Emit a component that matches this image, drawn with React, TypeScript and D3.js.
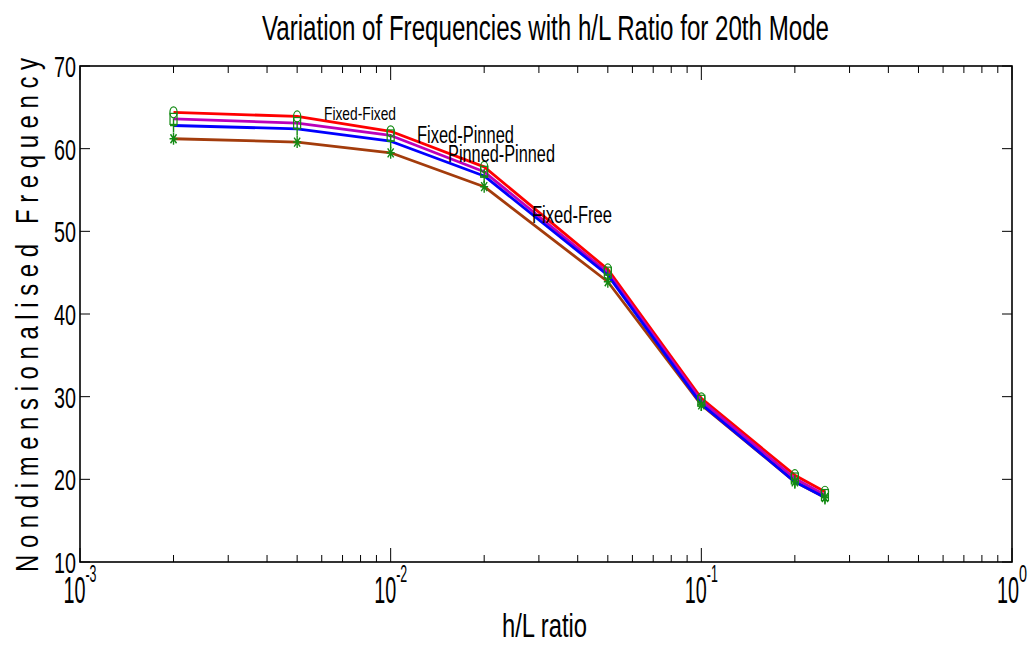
import React from 'react';
import * as d3 from 'd3';

const hlRatio = [0.002, 0.005, 0.01, 0.02, 0.05, 0.1, 0.2, 0.25];
const fixedFixed = [64.4, 63.9, 62.1, 57.8, 45.4, 29.8, 20.5, 18.5];
const fixedPinned = [63.6, 63.1, 61.6, 57.2, 45.0, 29.5, 20.1, 18.1];
const pinnedPinned = [62.8, 62.4, 60.9, 56.7, 44.7, 29.1, 19.7, 17.8];
const fixedFree = [61.2, 60.8, 59.5, 55.4, 43.9, 29.0, 19.7, 17.8];

const yTicks = [10, 20, 30, 40, 50, 60, 70];
const xDecades = [-3, -2, -1, 0];

const FONT = '"Liberation Sans", Arial, sans-serif';
const GREEN = '#138a13';

const series = [
  {name: 'Fixed-Free', values: fixedFree, color: '#a33c0c', marker: 'star'},
  {name: 'Fixed-Fixed', values: fixedFixed, color: '#ff0000', marker: 'circle'},
  {name: 'Fixed-Pinned', values: fixedPinned, color: '#bb00bb', marker: 'square'},
  {name: 'Pinned-Pinned', values: pinnedPinned, color: '#0000ff', marker: 'plus'},
];

// curve labels placed like the original annotations
const labels = [
  {text: 'Fixed-Fixed', x: 324, y: 120, size: 19, w: 72},
  {text: 'Fixed-Pinned', x: 417, y: 143, size: 23, w: 97},
  {text: 'Pinned-Pinned', x: 448, y: 162, size: 23, w: 107},
  {text: 'Fixed-Free', x: 532, y: 223, size: 23, w: 80},
];

const Marker = ({type, cx, cy}: {type: string; cx: number; cy: number}) => {
  const s = {fill: 'none', stroke: GREEN, strokeWidth: 1.2};
  if (type === 'circle') return <ellipse cx={cx} cy={cy} rx={3.6} ry={5.5} {...s} />;
  if (type === 'square') return <rect x={cx - 3.5} y={cy - 5.5} width={7} height={11} {...s} />;
  if (type === 'plus')
    return (
      <path d={`M${cx - 3.5},${cy}H${cx + 3.5}M${cx},${cy - 7}V${cy + 7}`} {...s} strokeWidth={1.4} />
    );
  return (
    <path
      d={`M${cx - 4},${cy}H${cx + 4}M${cx},${cy - 6}V${cy + 6}M${cx - 3},${cy - 4.5}L${cx + 3},${cy + 4.5}M${cx - 3},${cy + 4.5}L${cx + 3},${cy - 4.5}`}
      {...s}
      strokeWidth={1.4}
    />
  );
};

const App = () => {
  const left = 80, right = 1012, top = 66, bottom = 562;
  const x = d3.scaleLog().domain([1e-3, 1]).range([left, right]);
  const y = d3.scaleLinear().domain([10, 70]).range([bottom, top]);

  const line = d3
    .line<number>()
    .x((_, i) => x(hlRatio[i]))
    .y(d => y(d));

  const minor: number[] = [];
  xDecades.slice(0, -1).forEach(e => {
    for (let k = 2; k <= 9; k++) minor.push(k * Math.pow(10, e));
  });

  return (
    <div style={{position: 'absolute', left: 0, top: 0}}>
      <svg width={1029} height={646} style={{display: 'block', background: '#fff'}}>
        <rect x={0} y={0} width={1029} height={646} fill="#fff" />

        {/* title */}
        <text x={262} y={40} fontFamily={FONT} fontSize={35} textLength={567} lengthAdjust="spacingAndGlyphs">
          Variation of Frequencies with h/L Ratio for 20th Mode
        </text>

        {/* ticks */}
        {yTicks.map(t => (
          <g key={'y' + t}>
            <line x1={left} x2={left + 10} y1={y(t)} y2={y(t)} stroke="#000" strokeWidth={1} />
            <line x1={right} x2={right - 10} y1={y(t)} y2={y(t)} stroke="#000" strokeWidth={1} />
            <text
              x={76}
              y={y(t) + 11}
              fontFamily={FONT}
              fontSize={29}
              textAnchor="end"
              textLength={22}
              lengthAdjust="spacingAndGlyphs"
            >
              {t}
            </text>
          </g>
        ))}
        {minor.map(m => (
          <g key={'m' + m}>
            <line x1={x(m)} x2={x(m)} y1={bottom} y2={bottom - 7} stroke="#000" strokeWidth={1} />
            <line x1={x(m)} x2={x(m)} y1={top} y2={top + 7} stroke="#000" strokeWidth={1} />
          </g>
        ))}
        {xDecades.map(e => {
          const v = Math.pow(10, e);
          const sup = String(e);
          const supW = sup.length === 1 ? 8 : 11;
          const start = x(v) - (22 + supW) / 2;
          return (
            <g key={'x' + e}>
              <line x1={x(v)} x2={x(v)} y1={bottom} y2={bottom - 14} stroke="#000" strokeWidth={1} />
              <line x1={x(v)} x2={x(v)} y1={top} y2={top + 14} stroke="#000" strokeWidth={1} />
              <text x={start} y={603} fontFamily={FONT} fontSize={36} textLength={22} lengthAdjust="spacingAndGlyphs">
                10
              </text>
              <text x={start + 22} y={582} fontFamily={FONT} fontSize={23} textLength={supW} lengthAdjust="spacingAndGlyphs">
                {sup}
              </text>
            </g>
          );
        })}

        {/* axes box */}
        <rect x={left} y={top} width={right - left} height={bottom - top} fill="none" stroke="#000" strokeWidth={1.6} />

        {/* curves */}
        {series.map(s => (
          <path key={s.name} d={line(s.values) || ''} fill="none" stroke={s.color} strokeWidth={2.8} strokeLinejoin="round" />
        ))}
        {series.map(s =>
          s.values.map((v, i) => <Marker key={s.name + i} type={s.marker} cx={x(hlRatio[i])} cy={y(v)} />),
        )}

        {labels.map(l => (
          <text
            key={l.text}
            x={l.x}
            y={l.y}
            fontFamily={FONT}
            fontSize={l.size}
            textLength={l.w}
            lengthAdjust="spacingAndGlyphs"
          >
            {l.text}
          </text>
        ))}

        {/* axis labels */}
        <text x={502} y={637} fontFamily={FONT} fontSize={33} textLength={85} lengthAdjust="spacingAndGlyphs">
          h/L ratio
        </text>
        <text
          transform="translate(38,572) rotate(-90)"
          x={0}
          y={0}
          fontFamily={FONT}
          fontSize={32}
          textLength={514}
          lengthAdjust="spacingAndGlyphs"
          style={{whiteSpace: 'pre'}}
        >
          {'N o n d i m e n s i o n a l i s e d   F r e q u e n c y'}
        </text>
      </svg>
    </div>
  );
};

export default App;
